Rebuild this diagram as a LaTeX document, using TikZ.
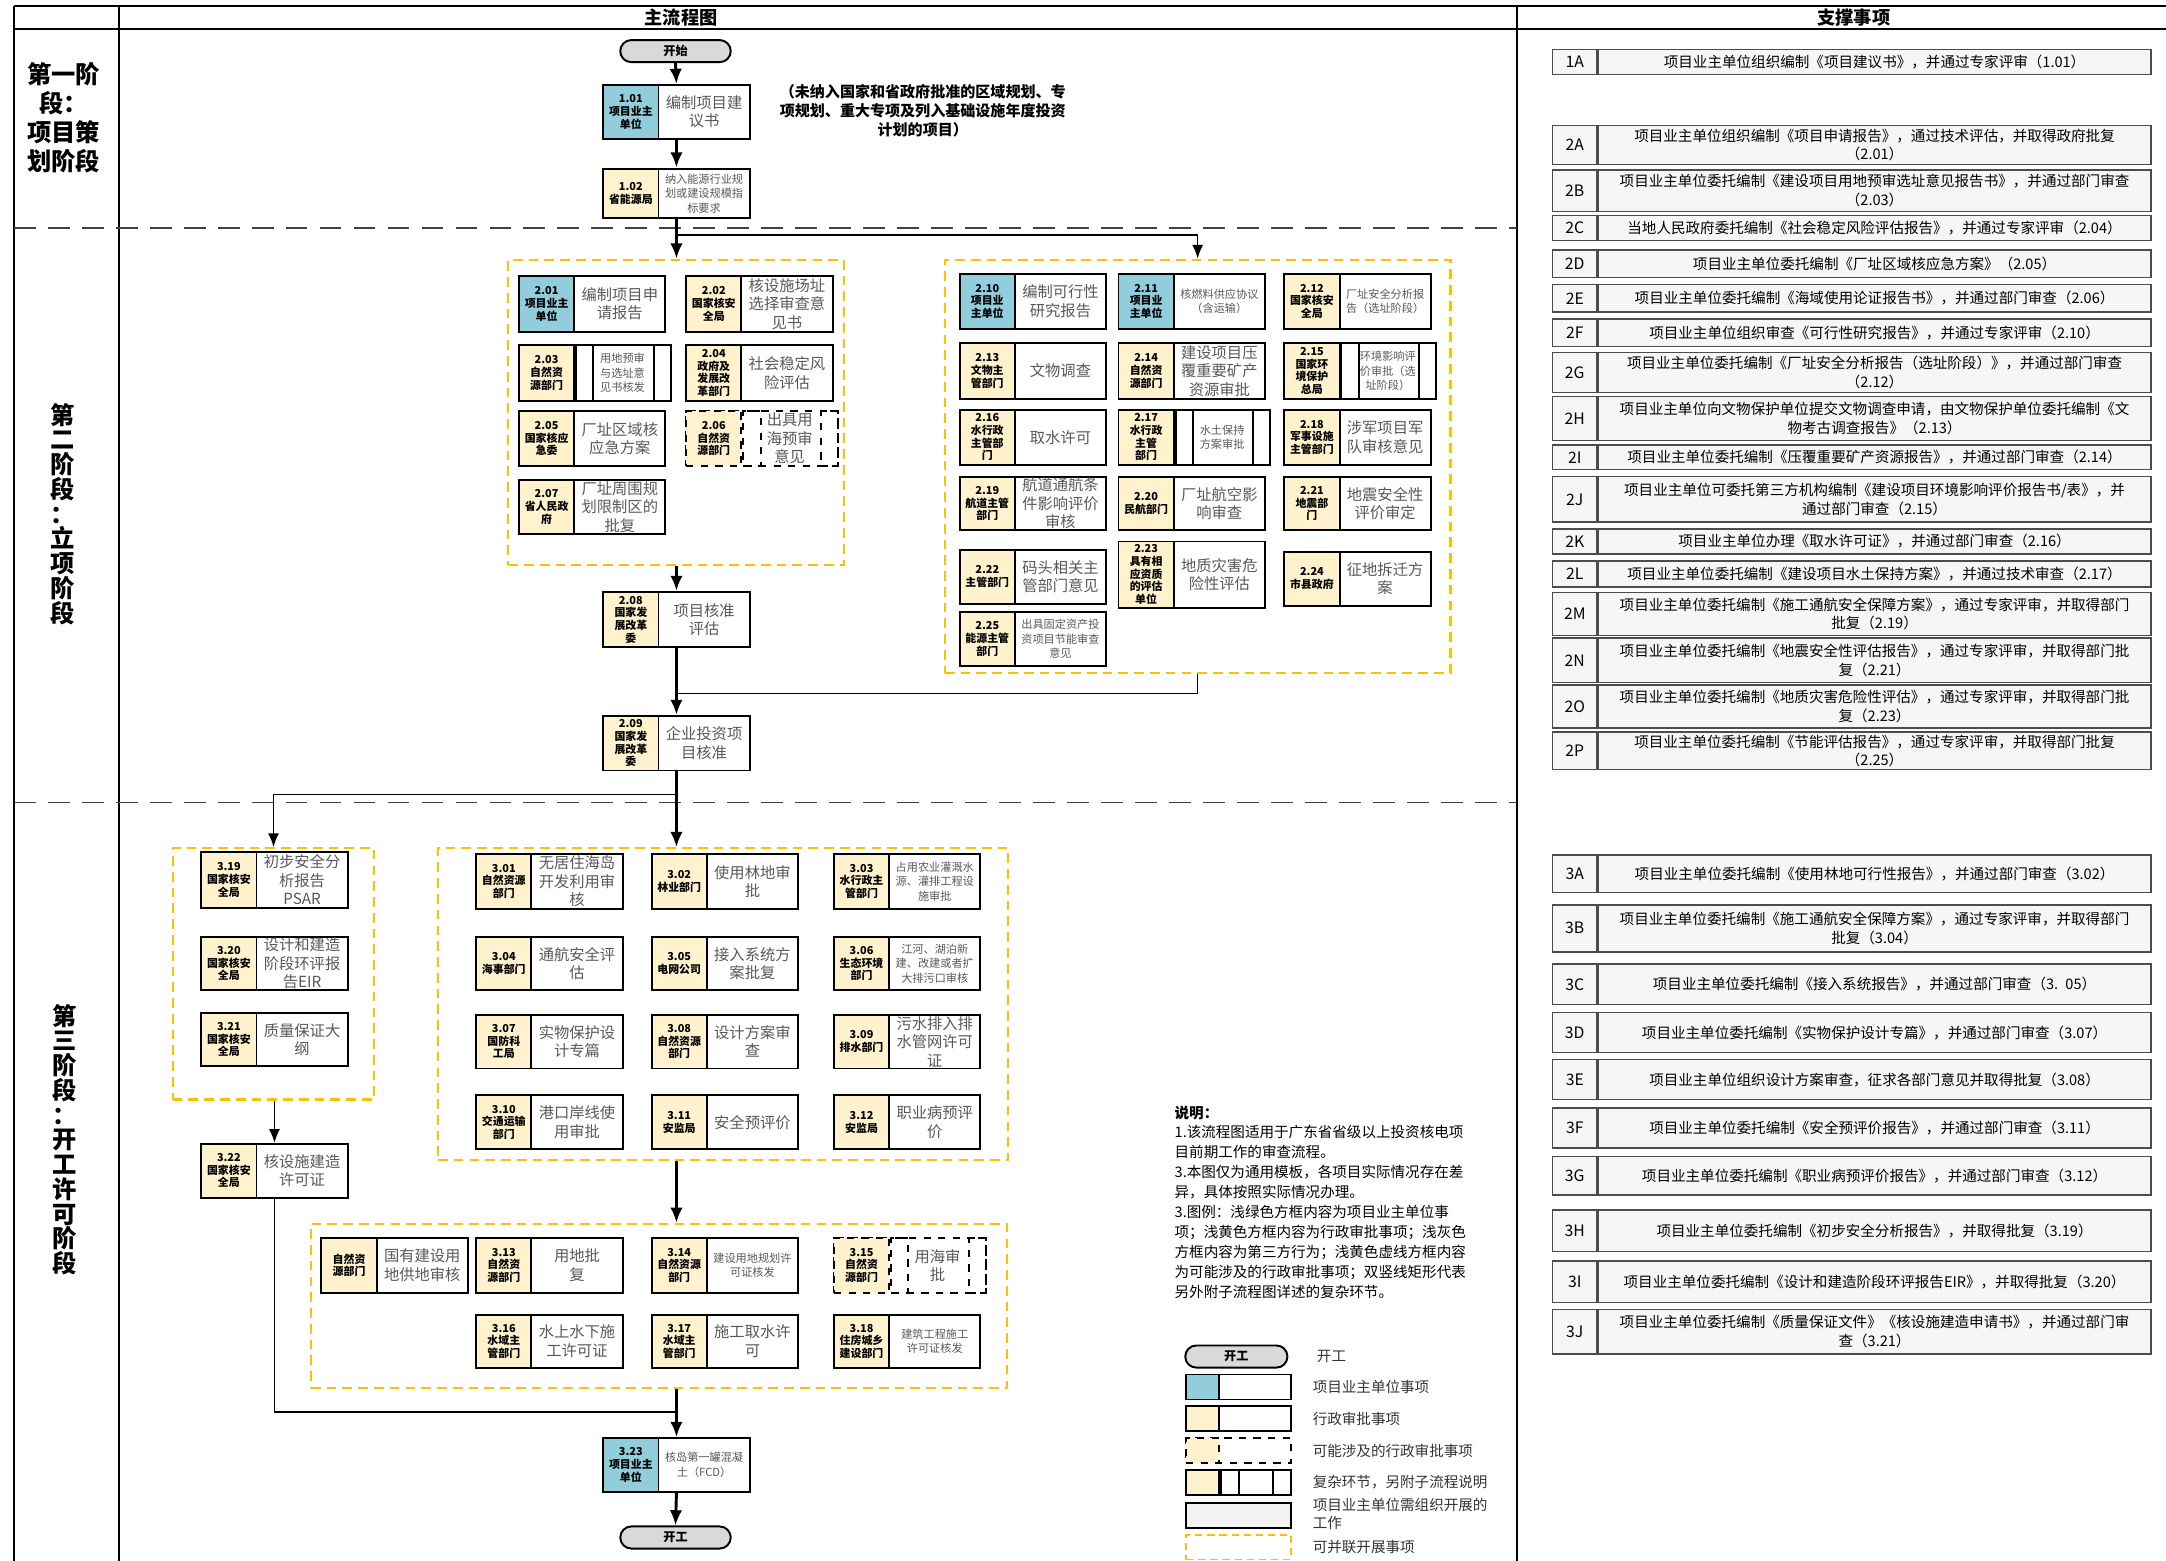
\documentclass[tikz,border=0pt]{standalone}
\usepackage{fontspec}
\setmainfont{Noto Sans CJK SC}
\usetikzlibrary{arrows.meta}
\definecolor{ownerblue}{HTML}{92CDDC}
\definecolor{adminyel}{HTML}{FFF2CC}
\definecolor{grpyel}{HTML}{FFC000}
\definecolor{txtgray}{HTML}{595959}
\definecolor{pillgray}{HTML}{D9D9D9}
\newcommand{\labfont}{\fontsize{4.5}{5.2}\selectfont\bfseries}
\newcommand{\txtfont}{\fontsize{6.3}{7.6}\selectfont}
\newcommand{\smallfont}{\fontsize{4.6}{6.0}\selectfont}
\newcommand{\supfont}{\fontsize{6}{7.6}\selectfont}
\tikzset{
  wholebox/.style={draw, line width=0.8pt, fill=white, minimum width=2.12cm, minimum height=0.8cm, inner sep=0pt, anchor=west},
  labcell/.style={draw, line width=0.8pt, minimum width=0.8cm, minimum height=0.8cm, inner sep=0pt, align=center, font=\labfont},
  narrowcell/.style={draw, line width=0.8pt, minimum width=0.25cm, minimum height=0.8cm, inner sep=0pt},
  txtcell/.style={text width=1.26cm, inner sep=0pt, align=center, text=txtgray, font=\txtfont},
  grp/.style={draw=grpyel, line width=0.9pt, dash pattern=on 4pt off 2.5pt, inner sep=0pt},
  pill/.style={draw, line width=0.8pt, fill=pillgray, rounded corners=0.16cm, minimum width=1.6cm, minimum height=0.32cm, inner sep=0pt, font=\fontsize{5}{6}\selectfont\bfseries},
  trunk/.style={line width=1.2pt, -{Latex[length=0.22cm,width=0.18cm]}},
  branch/.style={line width=0.6pt, -{Latex[length=0.2cm,width=0.16cm]}},
  joinline/.style={line width=0.6pt},
  phasesep/.style={draw=black!75, line width=0.7pt, dash pattern=on 9pt off 5pt},
  phasetxt/.style={align=center, font=\fontsize{10}{10.2}\selectfont\bfseries},
  headtxt/.style={font=\fontsize{7.5}{8}\selectfont\bfseries},
  suplab/.style={draw=black!70, line width=0.6pt, fill=gray!7, minimum width=0.64cm, inner sep=0pt, font=\fontsize{6.5}{7}\selectfont},
  suptxt/.style={draw=black!70, line width=0.6pt, fill=gray!7, text width=7.9cm, inner xsep=0.05cm, inner ysep=0pt, align=center, font=\supfont},
  notetxt/.style={anchor=north west, align=left, inner sep=0pt, font=\fontsize{6}{8.2}\selectfont},
  legwhole/.style={draw, line width=0.7pt, fill=white, minimum width=1.52cm, minimum height=0.36cm, inner sep=0pt, anchor=west},
  legcell/.style={draw, line width=0.7pt, minimum width=0.48cm, minimum height=0.36cm, inner sep=0pt, anchor=west},
  legnarrow/.style={draw, line width=0.7pt, minimum width=0.26cm, minimum height=0.36cm, inner sep=0pt},
  legtxt/.style={anchor=west, align=left, inner sep=0pt, text=black!80, font=\fontsize{6}{7.5}\selectfont}
}
% box: options, name, left x, centre y, colour, office, task
\newcommand{\flowbox}[7][]{%
  \node[wholebox,#1] (#2) at (#3,#4) {};
  \node[labcell,fill=#5,anchor=west,#1] (#2-l) at (#2.west) {#6};
  \node[txtcell] (#2-t) at ([xshift=0.4cm]#2.center) {#7\par};
}
\newcommand{\cplxbox}[7][]{%
  \node[wholebox,minimum width=2.2cm,#1] (#2) at (#3,#4) {};
  \node[labcell,fill=#5,anchor=west,#1] (#2-l) at (#2.west) {#6};
  \node[narrowcell,anchor=west,#1] (#2-a) at (#2-l.east) {};
  \node[narrowcell,anchor=east,#1] (#2-b) at (#2.east) {};
  \node[txtcell,text width=0.86cm] (#2-t) at ([xshift=0.4cm]#2.center) {#7\par};
}
\newcommand{\supbox}[5]{%
  \node[suplab, minimum height={(#3-#2)*0.02cm}] (#1-l) at (1140,{(#2+#3)/2}) {#4};
  \node[suptxt, minimum height={(#3-#2)*0.02cm}, anchor=west] (#1) at (#1-l.east) {#5};
}
\newcommand{\legbox}[4][]{%
  \node[legwhole,#1] (#2) at (858,#3) {};
  \node[legcell,fill=#4,#1] (#2-l) at (#2.west) {};
}
\begin{document}
\begin{tikzpicture}[x=0.02cm,y=-0.02cm]
\useasboundingbox (0,0) rectangle (1568,1130);

% frame and phases
\draw[line width=0.8pt] (10,4) -- (1568,4);
\draw[line width=0.8pt] (10,21) -- (1568,21);
\draw[line width=0.8pt] (10,4) -- (10,1130);
\draw[line width=0.8pt] (86,4) -- (86,1130);
\draw[line width=0.8pt] (1098,4) -- (1098,1130);
\draw[phasesep] (10,165) -- (1098,165);
\draw[phasesep] (10,581) -- (1098,581);
\node[headtxt] (h1) at (493,13) {主流程图};
\node[headtxt] (h2) at (1342,13) {支撑事项};
\node[phasetxt, font=\fontsize{10}{12}\selectfont\bfseries] (ph1) at (46,85) {第一阶\\段：\\项目策\\划阶段};
\node[phasetxt] (ph2) at (45,372) {第\\二\\阶\\段\\：\\立\\项\\阶\\段};
\node[phasetxt] (ph3) at (47,825) {第\\三\\阶\\段\\：\\开\\工\\许\\可\\阶\\段};

% yellow groups
\node[grp, minimum width=4.86cm, minimum height=4.42cm] (g2a) at (489.5,298.5) {};
\node[grp, minimum width=7.32cm, minimum height=5.98cm] (g2b) at (867,337.5) {};
\node[grp, minimum width=2.92cm, minimum height=3.64cm] (g3a) at (198,705) {};
\node[grp, minimum width=8.26cm, minimum height=4.52cm] (g3b) at (523.5,727) {};
\node[grp, minimum width=10.08cm, minimum height=2.38cm] (g3c) at (477,945.5) {};

% phase 1
\node[pill] (start) at (489,37) {开始};
\flowbox[minimum height=0.78cm]{b101}{436}{81}{ownerblue}{1.01\\项目业主\\单位}{编制项目建\\议书}
\flowbox[minimum height=0.72cm]{b102}{436}{140}{adminyel}{1.02\\省能源局}{\smallfont 纳入能源行业规\\划或建设规模指\\标要求}
\node[align=center, font=\fontsize{6.2}{7.9}\selectfont\bfseries] (plan) at (668,80) {（未纳入国家和省政府批准的区域规划、专\\项规划、重大专项及列入基础设施年度投资\\计划的项目）};

% phase 2
\flowbox{b201}{375}{220}{ownerblue}{2.01\\项目业主\\单位}{编制项目申\\请报告}
\flowbox{b202}{496}{220}{adminyel}{2.02\\国家核安\\全局}{核设施场址\\选择审查意\\见书}
\cplxbox{b203}{375}{270}{adminyel}{2.03\\自然资\\源部门}{\smallfont 用地预审\\与选址意\\见书核发}
\flowbox{b204}{496}{270}{adminyel}{2.04\\政府及\\发展改\\革部门}{社会稳定风\\险评估}
\flowbox{b205}{375}{317.5}{adminyel}{2.05\\国家核应\\急委}{厂址区域核\\应急方案}
\cplxbox[dashed]{b206}{496}{317.5}{adminyel}{2.06\\自然资\\源部门}{出具用\\海预审\\意见}
\flowbox[minimum height=0.78cm]{b207}{375}{367}{adminyel}{2.07\\省人民政\\府}{厂址周围规\\划限制区的\\批复}
\flowbox{b208}{436}{448.5}{adminyel}{2.08\\国家发\\展改革\\委}{项目核准\\评估}
\flowbox[minimum height=0.79cm]{b209}{436}{538}{adminyel}{2.09\\国家发\\展改革\\委}{企业投资项\\目核准}

\flowbox{b210}{694}{218}{ownerblue}{2.10\\项目业\\主单位}{编制可行性\\研究报告}
\flowbox{b211}{809}{218}{ownerblue}{2.11\\项目业\\主单位}{\smallfont 核燃料供应协议\\（含运输）}
\flowbox{b212}{929}{218}{adminyel}{2.12\\国家核安\\全局}{\smallfont 厂址安全分析报\\告（选址阶段）}
\flowbox{b213}{694}{268.5}{adminyel}{2.13\\文物主\\管部门}{文物调查}
\flowbox{b214}{809}{268.5}{adminyel}{2.14\\自然资\\源部门}{建设项目压\\覆重要矿产\\资源审批}
\cplxbox{b215}{929}{268.5}{adminyel}{2.15\\国家环\\境保护\\总局}{\smallfont 环境影响评\\价审批（选\\址阶段）}
\flowbox{b216}{694}{316.5}{adminyel}{2.16\\水行政\\主管部\\门}{取水许可}
\cplxbox{b217}{809}{316.5}{adminyel}{2.17\\水行政\\主管\\部门}{\smallfont 水土保持\\方案审批}
\flowbox{b218}{929}{316.5}{adminyel}{2.18\\军事设施\\主管部门}{涉军项目军\\队审核意见}
\flowbox[minimum height=0.78cm]{b219}{694}{364.5}{adminyel}{2.19\\航道主管\\部门}{航道通航条\\件影响评价\\审核}
\flowbox[minimum height=0.78cm]{b220}{809}{364.5}{adminyel}{2.20\\民航部门}{厂址航空影\\响审查}
\flowbox[minimum height=0.78cm]{b221}{929}{364.5}{adminyel}{2.21\\地震部\\门}{地震安全性\\评价审定}
\flowbox[minimum height=0.78cm]{b222}{694}{417.5}{adminyel}{2.22\\主管部门}{码头相关主\\管部门意见}
\flowbox[minimum height=0.96cm]{b223}{809}{416}{adminyel}{2.23\\具有相\\应资质\\的评估\\单位}{地质灾害危\\险性评估}
\flowbox[minimum height=0.78cm]{b224}{929}{419}{adminyel}{2.24\\市县政府}{征地拆迁方\\案}
\flowbox[minimum height=0.78cm]{b225}{694}{462.5}{adminyel}{2.25\\能源主管\\部门}{\smallfont 出具固定资产投\\资项目节能审查\\意见}

% phase 3
\flowbox{b319}{145}{637}{adminyel}{3.19\\国家核安\\全局}{初步安全分\\析报告\\PSAR}
\flowbox[minimum height=0.78cm]{b320}{145}{697.5}{adminyel}{3.20\\国家核安\\全局}{设计和建造\\阶段环评报\\告EIR}
\flowbox[minimum height=0.78cm]{b321}{145}{752.5}{adminyel}{3.21\\国家核安\\全局}{质量保证大\\纲}
\flowbox[minimum height=0.78cm]{b322}{145}{847.5}{adminyel}{3.22\\国家核安\\全局}{核设施建造\\许可证}

\flowbox{b301}{344}{638}{adminyel}{3.01\\自然资源\\部门}{无居住海岛\\开发利用审\\核}
\flowbox{b302}{471}{638}{adminyel}{3.02\\林业部门}{使用林地审\\批}
\flowbox{b303}{603}{638}{adminyel}{3.03\\水行政主\\管部门}{\smallfont 占用农业灌溉水\\源、灌排工程设\\施审批}
\flowbox[minimum height=0.78cm]{b304}{344}{697.5}{adminyel}{3.04\\海事部门}{通航安全评\\估}
\flowbox[minimum height=0.78cm]{b305}{471}{697.5}{adminyel}{3.05\\电网公司}{接入系统方\\案批复}
\flowbox[minimum height=0.78cm]{b306}{603}{697.5}{adminyel}{3.06\\生态环境\\部门}{\smallfont 江河、湖泊新\\建、改建或者扩\\大排污口审核}
\flowbox[minimum height=0.78cm]{b307}{344}{754}{adminyel}{3.07\\国防科\\工局}{实物保护设\\计专篇}
\flowbox[minimum height=0.78cm]{b308}{471}{754}{adminyel}{3.08\\自然资源\\部门}{设计方案审\\查}
\flowbox[minimum height=0.78cm]{b309}{603}{754}{adminyel}{3.09\\排水部门}{污水排入排\\水管网许可\\证}
\flowbox[minimum height=0.78cm]{b310}{344}{812.5}{adminyel}{3.10\\交通运输\\部门}{港口岸线使\\用审批}
\flowbox[minimum height=0.78cm]{b311}{471}{812.5}{adminyel}{3.11\\安监局}{安全预评价}
\flowbox[minimum height=0.78cm]{b312}{603}{812.5}{adminyel}{3.12\\安监局}{职业病预评\\价}

\flowbox{b300}{232}{916}{adminyel}{自然资\\源部门}{国有建设用\\地供地审核}
\flowbox{b313}{344}{916}{adminyel}{3.13\\自然资\\源部门}{用地批\\复}
\flowbox{b314}{471}{916}{adminyel}{3.14\\自然资源\\部门}{\smallfont 建设用地规划许\\可证核发}
\cplxbox[dashed]{b315}{603}{916}{adminyel}{3.15\\自然资\\源部门}{用海审\\批}
\flowbox[minimum height=0.76cm]{b316}{344}{971}{adminyel}{3.16\\水域主\\管部门}{水上水下施\\工许可证}
\flowbox[minimum height=0.76cm]{b317}{471}{971}{adminyel}{3.17\\水域主\\管部门}{施工取水许\\可}
\flowbox[minimum height=0.76cm]{b318}{603}{971}{adminyel}{3.18\\住房城乡\\建设部门}{\smallfont 建筑工程施工\\许可证核发}
\flowbox[minimum height=0.78cm]{b323}{436}{1060.5}{ownerblue}{3.23\\项目业主\\单位}{\smallfont 核岛第一罐混凝\\土（FCD）}
\node[pill] (finish) at (489,1113) {开工};

% connectors
\coordinate (split1) at (489,170);
\coordinate (merge1) at (489,502);
\coordinate (split2) at (489,575);
\coordinate (merge2) at (489,1022);
\draw[trunk] (start.south) -- (b101.north);
\draw[trunk] (b101.south) -- (b102.north);
\draw[trunk] (b102.south) -- (b102.south |- g2a.north);
\draw[branch] (split1) -| (g2b.north);
\draw[trunk] (b208.north |- g2a.south) -- (b208.north);
\draw[trunk] (b208.south) -- (b209.north);
\draw[joinline] (g2b.south) |- (merge1);
\draw[trunk] (b209.south) -- (b209.south |- g3b.north);
\draw[branch] (split2) -| (g3a.north);
\draw[branch] (b322.north |- g3a.south) -- (b322.north);
\draw[trunk] (b209.south |- g3b.south) -- (b209.south |- g3c.north);
\draw[joinline] (b322.south) |- (merge2);
\draw[trunk] (b209.south |- g3c.south) -- (b323.north);
\draw[trunk] (b323.south) -- (finish.north);

% notes and legend
\node[notetxt] (note) at (850,800) {\textbf{说明：}\\
1.该流程图适用于广东省省级以上投资核电项\\
目前期工作的审查流程。\\
3.本图仅为通用模板，各项目实际情况存在差\\
异，具体按照实际情况办理。\\
3.图例：浅绿色方框内容为项目业主单位事\\
项；浅黄色方框内容为行政审批事项；浅灰色\\
方框内容为第三方行为；浅黄色虚线方框内容\\
为可能涉及的行政审批事项；双竖线矩形代表\\
另外附子流程图详述的复杂环节。};

\node[pill, minimum width=1.48cm] (lg0) at (895,982) {开工};
\legbox{lg1}{1004}{ownerblue}
\legbox{lg2}{1027}{adminyel}
\legbox[dashed]{lg3}{1050}{adminyel}
\legbox{lg4}{1073}{adminyel}
\node[legnarrow, anchor=west] (lg4-a) at (lg4-l.east) {};
\node[legnarrow, anchor=east] (lg4-b) at (lg4.east) {};
\node[legwhole, fill=gray!10] (lg5) at (858,1097) {};
\node[legwhole, draw=grpyel, dash pattern=on 3pt off 2pt] (lg6) at (858,1120) {};
\node[legtxt] (lt0) at (953,982) {开工};
\node[legtxt] (lt1) at (950,1004) {项目业主单位事项};
\node[legtxt] (lt2) at (950,1027) {行政审批事项};
\node[legtxt] (lt3) at (950,1050) {可能涉及的行政审批事项};
\node[legtxt] (lt4) at (950,1073) {复杂环节，另附子流程说明};
\node[legtxt] (lt5) at (950,1096) {项目业主单位需组织开展的\\工作};
\node[legtxt] (lt6) at (950,1120) {可并联开展事项};

% support items
\supbox{s1A}{36}{54}{1A}{项目业主单位组织编制《项目建议书》，并通过专家评审（1.01）}
\supbox{s2A}{91}{119}{2A}{项目业主单位组织编制《项目申请报告》，通过技术评估，并取得政府批复\\（2.01）}
\supbox{s2B}{123}{153}{2B}{项目业主单位委托编制《建设项目用地预审选址意见报告书》，并通过部门审查\\（2.03）}
\supbox{s2C}{156}{174}{2C}{当地人民政府委托编制《社会稳定风险评估报告》，并通过专家评审（2.04）}
\supbox{s2D}{181}{201}{2D}{项目业主单位委托编制《厂址区域核应急方案》（2.05）}
\supbox{s2E}{206}{226}{2E}{项目业主单位委托编制《海域使用论证报告书》，并通过部门审查（2.06）}
\supbox{s2F}{231}{251}{2F}{项目业主单位组织审查《可行性研究报告》，并通过专家评审（2.10）}
\supbox{s2G}{255}{284}{2G}{项目业主单位委托编制《厂址安全分析报告（选址阶段）》，并通过部门审查\\（2.12）}
\supbox{s2H}{287}{319}{2H}{项目业主单位向文物保护单位提交文物调查申请，由文物保护单位委托编制《文\\物考古调查报告》（2.13）}
\supbox{s2I}{322}{340}{2I}{项目业主单位委托编制《压覆重要矿产资源报告》，并通过部门审查（2.14）}
\supbox{s2J}{345}{378}{2J}{项目业主单位可委托第三方机构编制《建设项目环境影响评价报告书/表》，并\\通过部门审查（2.15）}
\supbox{s2K}{383}{401}{2K}{项目业主单位办理《取水许可证》，并通过部门审查（2.16）}
\supbox{s2L}{406}{425}{2L}{项目业主单位委托编制《建设项目水土保持方案》，并通过技术审查（2.17）}
\supbox{s2M}{429}{460}{2M}{项目业主单位委托编制《施工通航安全保障方案》，通过专家评审，并取得部门\\批复（2.19）}
\supbox{s2N}{462}{494}{2N}{项目业主单位委托编制《地震安全性评估报告》，通过专家评审，并取得部门批\\复（2.21）}
\supbox{s2O}{496}{527}{2O}{项目业主单位委托编制《地质灾害危险性评估》，通过专家评审，并取得部门批\\复（2.23）}
\supbox{s2P}{530}{557}{2P}{项目业主单位委托编制《节能评估报告》，通过专家评审，并取得部门批复\\（2.25）}
\supbox{s3A}{619}{646}{3A}{项目业主单位委托编制《使用林地可行性报告》，并通过部门审查（3.02）}
\supbox{s3B}{655}{689}{3B}{项目业主单位委托编制《施工通航安全保障方案》，通过专家评审，并取得部门\\批复（3.04）}
\supbox{s3C}{698}{727}{3C}{项目业主单位委托编制《接入系统报告》，并通过部门审查（3. 05）}
\supbox{s3D}{733}{762}{3D}{项目业主单位委托编制《实物保护设计专篇》，并通过部门审查（3.07）}
\supbox{s3E}{767}{796}{3E}{项目业主单位组织设计方案审查，征求各部门意见并取得批复（3.08）}
\supbox{s3F}{802}{831}{3F}{项目业主单位委托编制《安全预评价报告》，并通过部门审查（3.11）}
\supbox{s3G}{837}{865}{3G}{项目业主单位委托编制《职业病预评价报告》，并通过部门审查（3.12）}
\supbox{s3H}{876}{906}{3H}{项目业主单位委托编制《初步安全分析报告》，并取得批复（3.19）}
\supbox{s3I}{913}{943}{3I}{项目业主单位委托编制《设计和建造阶段环评报告EIR》，并取得批复（3.20）}
\supbox{s3J}{948}{980}{3J}{项目业主单位委托编制《质量保证文件》《核设施建造申请书》，并通过部门审\\查（3.21）}
\end{tikzpicture}
\end{document}
